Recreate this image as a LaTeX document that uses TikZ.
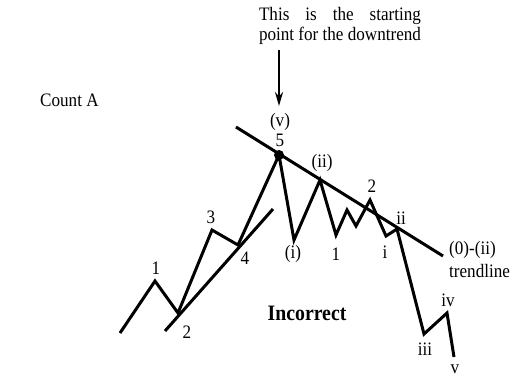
\documentclass[tikz,border=0pt]{standalone}
\usepackage{fontspec}
\setmainfont[FakeStretch=0.9]{Liberation Serif}
\usetikzlibrary{arrows.meta}
\begin{document}
\begin{tikzpicture}[x=1pt,y=-1pt,
  wave/.style={line width=3pt,line join=miter,line cap=butt},
  lbl/.style={inner sep=0pt,font=\fontsize{19}{21}\selectfont},
  big/.style={inner sep=0pt,font=\fontsize{22}{24}\selectfont\bfseries}]
\useasboundingbox (0,0) rectangle (513,376);
% wave points
\coordinate (s0) at (120,333);
\coordinate (w1) at (155,281);
\coordinate (w2) at (178,313);
\coordinate (w3) at (212,230);
\coordinate (w4) at (238,245);
\coordinate (w5) at (279,155);
\coordinate (ci) at (294,240);
\coordinate (cii) at (320,180);
\coordinate (a1) at (336,235);
\coordinate (a2) at (347,210);
\coordinate (a3) at (356,226);
\coordinate (a4) at (370,200);
\coordinate (bi) at (386,236);
\coordinate (bii) at (397,229);
\coordinate (biii) at (424,334);
\coordinate (biv) at (447,313);
\coordinate (bv) at (454,357);
% trendlines
\coordinate (t1) at (165,331);
\coordinate (t2) at (273,209);
\coordinate (u1) at (236,127);
\coordinate (u2) at (443,256);
\draw[wave] (s0) -- (w1) -- (w2) -- (w3) -- (w4) -- (w5) -- (ci) -- (cii) -- (a1) -- (a2) -- (a3) -- (a4) -- (bi) -- (bii) -- (biii) -- (biv) -- (bv);
\draw[wave] (t1) -- (t2);
\draw[wave] (u1) -- (u2);
\fill (w5) circle (5pt);
% labels
\node[lbl,anchor=west] (cnt) at (40,100) {Count A};
\node[lbl,anchor=north,align=left,font=\fontsize{19}{20}\selectfont] (top) at (340,7)
  {\setbox0\hbox{point for the downtrend}%
   \hbox to \wd0{This\hfill is\hfill the\hfill starting}\\
   point for the downtrend};
\node[lbl] (vlab) at (280,122) {(v)};
\node[lbl] (l5) at (280,140) {5};
\coordinate (arrS) at (279,50);
\draw[line width=2.2pt,-{Stealth[length=14pt,width=8pt]}] (arrS) -- (279,106);
\node[lbl] (l1) at (156,268) {1};
\node[lbl] (l2) at (187,332) {2};
\node[lbl] (l3) at (211,217) {3};
\node[lbl] (l4) at (245,258) {4};
\node[lbl] (li) at (293,254) {(i)};
\node[lbl] (lii) at (322,163) {(ii)};
\node[lbl] (m1) at (336,254) {1};
\node[lbl] (m2) at (372,186) {2};
\node[lbl] (ni) at (385,252) {i};
\node[lbl] (nii) at (401,218) {ii};
\node[lbl,anchor=west] (tl1) at (449,250) {(0)-(ii)};
\node[lbl,anchor=west] (tl2) at (449,271) {trendline};
\node[lbl] (niii) at (425,349) {iii};
\node[lbl] (niv) at (448,300) {iv};
\node[lbl] (nv) at (455,369) {v};
\node[big] (inc) at (307,313) {Incorrect};
\end{tikzpicture}
\end{document}
